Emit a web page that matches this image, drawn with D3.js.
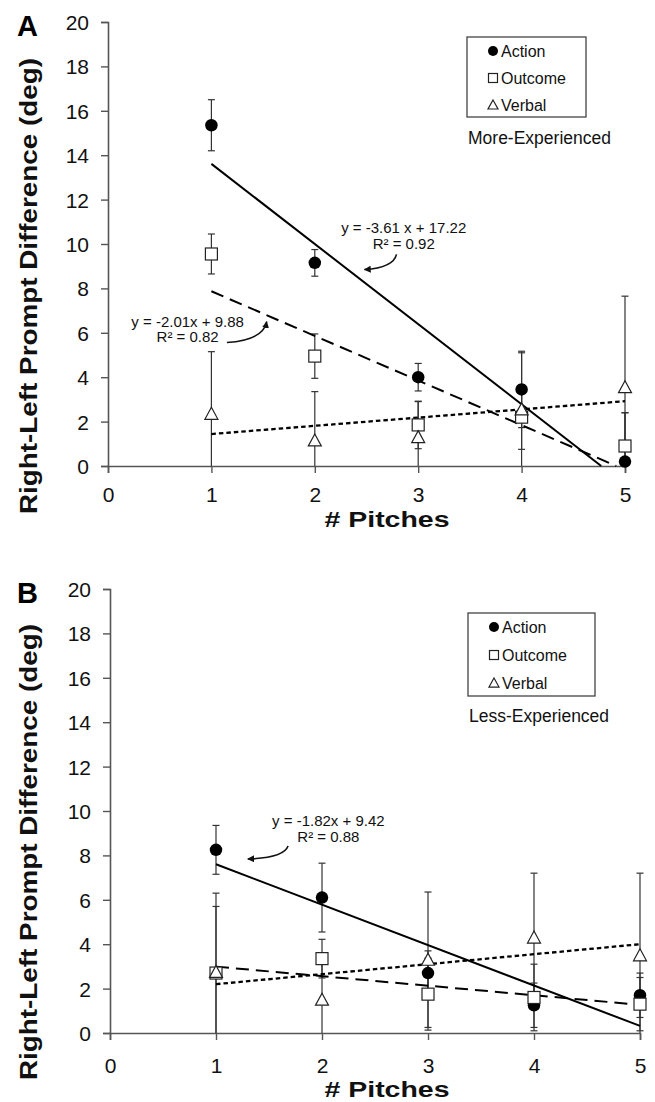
<!DOCTYPE html>
<html>
<head>
<meta charset="utf-8">
<script src="https://cdn.jsdelivr.net/npm/d3@7"></script>
<style>
  body { margin: 0; background: #fff; }
  svg { display: block; font-family: Arial, "Liberation Sans", sans-serif; }
</style>
</head>
<body>
<svg width="655" height="1102"></svg>
<script>
// data
var pitches = [1, 2, 3, 4, 5];
var xTicks = [0, 1, 2, 3, 4, 5];
var yTicks = [0, 2, 4, 6, 8, 10, 12, 14, 16, 18, 20];
var seriesNames = ["Action", "Outcome", "Verbal"];

// panel A - more experienced
var actionA = [15.35, 9.15, 4.0, 3.45, 0.2];
var actionErrA = [1.15, 0.6, 0.62, 1.72, 2.2];
var outcomeA = [9.55, 4.95, 1.85, 2.2, 0.9];
var outcomeErrA = [0.9, 1.0, 1.07, 1.45, 1.5];
var verbalA = [2.35, 1.15, 1.3, 2.55, 3.55];
var verbalErrA = [2.8, 2.2, 1.6, 2.55, 4.1];
var fitSlopeA = [-3.61, -2.01, 0.37];
var fitInterceptA = [17.22, 9.88, 1.07];

// panel B - less experienced
var actionB = [8.25, 6.1, 2.7, 1.25, 1.7];
var actionErrB = [1.1, 1.55, 1.0, 1.0, 1.0];
var outcomeB = [2.7, 3.35, 1.75, 1.6, 1.3];
var outcomeErrB = [3.0, 0.87, 1.62, 1.5, 1.2];
var verbalB = [2.75, 1.5, 3.3, 4.3, 3.5];
var verbalErrB = [3.55, 1.6, 3.05, 2.9, 3.7];
var fitSlopeB = [-1.82, -0.43, 0.45];
var fitInterceptB = [9.42, 3.42, 1.75];

// equation labels (text, position in data units, arrow start/control/end in data units)
var eqA = [
  {lines: ["y = -3.61 x + 17.22", "R\u00b2 = 0.92"], x: 2.86, y: [10.71, 10.0],
   arrow: [[2.79, 9.53], [2.76, 8.92], [2.48, 8.85]]},
  {lines: ["y = -2.01x + 9.88", "R\u00b2 = 0.82"], x: 0.77, y: [6.49, 5.8],
   arrow: [[1.15, 5.56], [1.5, 5.66], [1.535, 6.5]]}
];
var eqB = [
  {lines: ["y = -1.82x + 9.42", "R\u00b2 = 0.88"], x: 2.06, y: [9.55, 8.84],
   arrow: [[1.68, 8.42], [1.64, 7.88], [1.3, 7.84]]}
];

var svg = d3.select("svg");

svg.append("defs").append("marker")
  .attr("id", "arrowHead")
  .attr("viewBox", "0 0 10 10")
  .attr("refX", 9).attr("refY", 5)
  .attr("markerWidth", 7).attr("markerHeight", 7)
  .attr("markerUnits", "userSpaceOnUse")
  .attr("orient", "auto")
  .append("path")
  .attr("d", "M0,0 L10,5 L0,10 z")
  .attr("fill", "#111");

var panels = [
  {label: "A", sub: "More-Experienced", left: 108, right: 625, top: 22, bottom: 466,
   means: [actionA, outcomeA, verbalA], errs: [actionErrA, outcomeErrA, verbalErrA],
   slopes: fitSlopeA, intercepts: fitInterceptA, eqs: eqA,
   legendX: 467, legendY: 37, legendW: 119, legendH: 80, subY: 144,
   tickTop: 21, titleY: 527, yTitleMid: 286},
  {label: "B", sub: "Less-Experienced", left: 110, right: 640, top: 589, bottom: 1033,
   means: [actionB, outcomeB, verbalB], errs: [actionErrB, outcomeErrB, verbalErrB],
   slopes: fitSlopeB, intercepts: fitInterceptB, eqs: eqB,
   legendX: 468, legendY: 613, legendW: 127, legendH: 83, subY: 722,
   tickTop: 25, titleY: 1097, yTitleMid: 852}
];

var lineStyles = [
  {dash: null, width: 2},
  {dash: "13,7", width: 2},
  {dash: "4.5,3", width: 2.3}
];

function drawMarker(sel, k, size) {
  var h = size / 2;
  if (k === 0) {
    sel.append("circle").attr("r", h).attr("fill", "#000");
  } else if (k === 1) {
    sel.append("rect").attr("x", -h).attr("y", -h).attr("width", size).attr("height", size)
      .attr("fill", "#fff").attr("stroke", "#222").attr("stroke-width", 1.2);
  } else {
    sel.append("path")
      .attr("d", "M0," + (-h - 0.5) + " L" + (h + 0.5) + "," + (h - 0.5) + " L" + (-h - 0.5) + "," + (h - 0.5) + " Z")
      .attr("fill", "#fff").attr("stroke", "#222").attr("stroke-width", 1.2);
  }
}

panels.forEach(function (p) {
  var x = d3.scaleLinear().domain([0, 5]).range([p.left, p.right]);
  var y = d3.scaleLinear().domain([0, 20]).range([p.bottom, p.top]);
  var g = svg.append("g");

  // axes
  var yAxis = g.append("g").attr("transform", "translate(" + p.left + ",0)")
    .call(d3.axisLeft(y).tickValues(yTicks).tickSize(7).tickPadding(12).tickFormat(d3.format("d")));
  var xAxis = g.append("g").attr("transform", "translate(0," + p.bottom + ")")
    .call(d3.axisBottom(x).tickValues(xTicks).tickSize(7).tickPadding(p.tickTop - 7).tickFormat(d3.format("d")));
  [yAxis, xAxis].forEach(function (a) {
    a.select(".domain").attr("stroke", "#555").attr("stroke-width", 1.6);
    a.selectAll(".tick line").attr("stroke", "#555").attr("stroke-width", 1.4);
    a.selectAll(".tick text").attr("fill", "#111").style("font-size", "21px")
      .style("font-family", "Arial, 'Liberation Sans', sans-serif");
  });
  yAxis.selectAll(".tick text").attr("dy", "0.36em");

  // error bars
  p.means.forEach(function (vals, k) {
    var errs = p.errs[k];
    var eb = g.append("g").selectAll("g").data(pitches).enter().append("g");
    eb.append("line")
      .attr("x1", function (d) { return x(d); })
      .attr("x2", function (d) { return x(d); })
      .attr("y1", function (d, i) { return y(vals[i] + errs[i]); })
      .attr("y2", function (d, i) { return y(Math.max(0, vals[i] - errs[i])); })
      .attr("stroke", "#333").attr("stroke-width", 1.2);
    eb.append("line")
      .attr("x1", function (d) { return x(d) - 3.5; })
      .attr("x2", function (d) { return x(d) + 3.5; })
      .attr("y1", function (d, i) { return y(vals[i] + errs[i]); })
      .attr("y2", function (d, i) { return y(vals[i] + errs[i]); })
      .attr("stroke", "#333").attr("stroke-width", 1.2);
    eb.filter(function (d, i) { return vals[i] - errs[i] > 0.05; }).append("line")
      .attr("x1", function (d) { return x(d) - 3.5; })
      .attr("x2", function (d) { return x(d) + 3.5; })
      .attr("y1", function (d) { var i = pitches.indexOf(d); return y(vals[i] - errs[i]); })
      .attr("y2", function (d) { var i = pitches.indexOf(d); return y(vals[i] - errs[i]); })
      .attr("stroke", "#333").attr("stroke-width", 1.2);
  });

  // trend lines
  p.slopes.forEach(function (m, k) {
    var b = p.intercepts[k];
    var xEnd = 5;
    if (m < 0 && -b / m < 5) xEnd = -b / m;
    g.append("line")
      .attr("x1", x(1)).attr("y1", y(m * 1 + b))
      .attr("x2", x(xEnd)).attr("y2", y(m * xEnd + b))
      .attr("stroke", "#000")
      .attr("stroke-width", lineStyles[k].width)
      .attr("stroke-dasharray", lineStyles[k].dash);
  });

  // markers
  p.means.forEach(function (vals, k) {
    var mk = g.append("g").selectAll("g").data(pitches).enter().append("g")
      .attr("transform", function (d, i) { return "translate(" + x(d) + "," + y(vals[i]) + ")"; });
    drawMarker(mk, k, k === 0 ? 12.5 : 12);
  });

  // equations
  p.eqs.forEach(function (e) {
    e.lines.forEach(function (t, j) {
      g.append("text")
        .attr("x", x(e.x)).attr("y", y(e.y[j]))
        .attr("dy", "0.35em")
        .attr("text-anchor", "middle")
        .style("font-size", "15px")
        .attr("fill", "#111")
        .text(t);
    });
    var a = e.arrow;
    g.append("path")
      .attr("d", "M" + x(a[0][0]) + "," + y(a[0][1]) +
        " Q" + x(a[1][0]) + "," + y(a[1][1]) + " " + x(a[2][0]) + "," + y(a[2][1]))
      .attr("fill", "none").attr("stroke", "#111").attr("stroke-width", 1.6)
      .attr("marker-end", "url(#arrowHead)");
  });

  // legend
  var lg = g.append("g").attr("transform", "translate(" + p.legendX + "," + p.legendY + ")");
  lg.append("rect").attr("width", p.legendW).attr("height", p.legendH)
    .attr("fill", "#fff").attr("stroke", "#444").attr("stroke-width", 1.3);
  seriesNames.forEach(function (name, k) {
    var row = lg.append("g").attr("transform", "translate(26," + (14 + k * 27 * p.legendH / 80) + ")");
    drawMarker(row, k, k === 0 ? 10 : 9);
    row.append("text").attr("x", 8).attr("dy", "0.36em")
      .style("font-size", "16px").attr("fill", "#111").text(name);
  });
  g.append("text").attr("x", p.legendX + 1).attr("y", p.subY)
    .style("font-size", "17.5px").attr("fill", "#111").text(p.sub);

  // titles
  g.append("text")
    .attr("transform", "translate(37," + p.yTitleMid + ") rotate(-90)")
    .attr("text-anchor", "middle")
    .attr("textLength", 456).attr("lengthAdjust", "spacingAndGlyphs")
    .style("font-size", "23px").style("font-weight", "bold").attr("fill", "#111")
    .text("Right-Left Prompt Difference (deg)");
  g.append("text")
    .attr("x", 387).attr("y", p.titleY)
    .attr("text-anchor", "middle")
    .attr("textLength", 125).attr("lengthAdjust", "spacingAndGlyphs")
    .style("font-size", "22px").style("font-weight", "bold").attr("fill", "#111")
    .text("# Pitches");
  g.append("text")
    .attr("x", 17).attr("y", p.top + 14)
    .style("font-size", "29px").style("font-weight", "bold").attr("fill", "#000")
    .text(p.label);
});
</script>
</body>
</html>
